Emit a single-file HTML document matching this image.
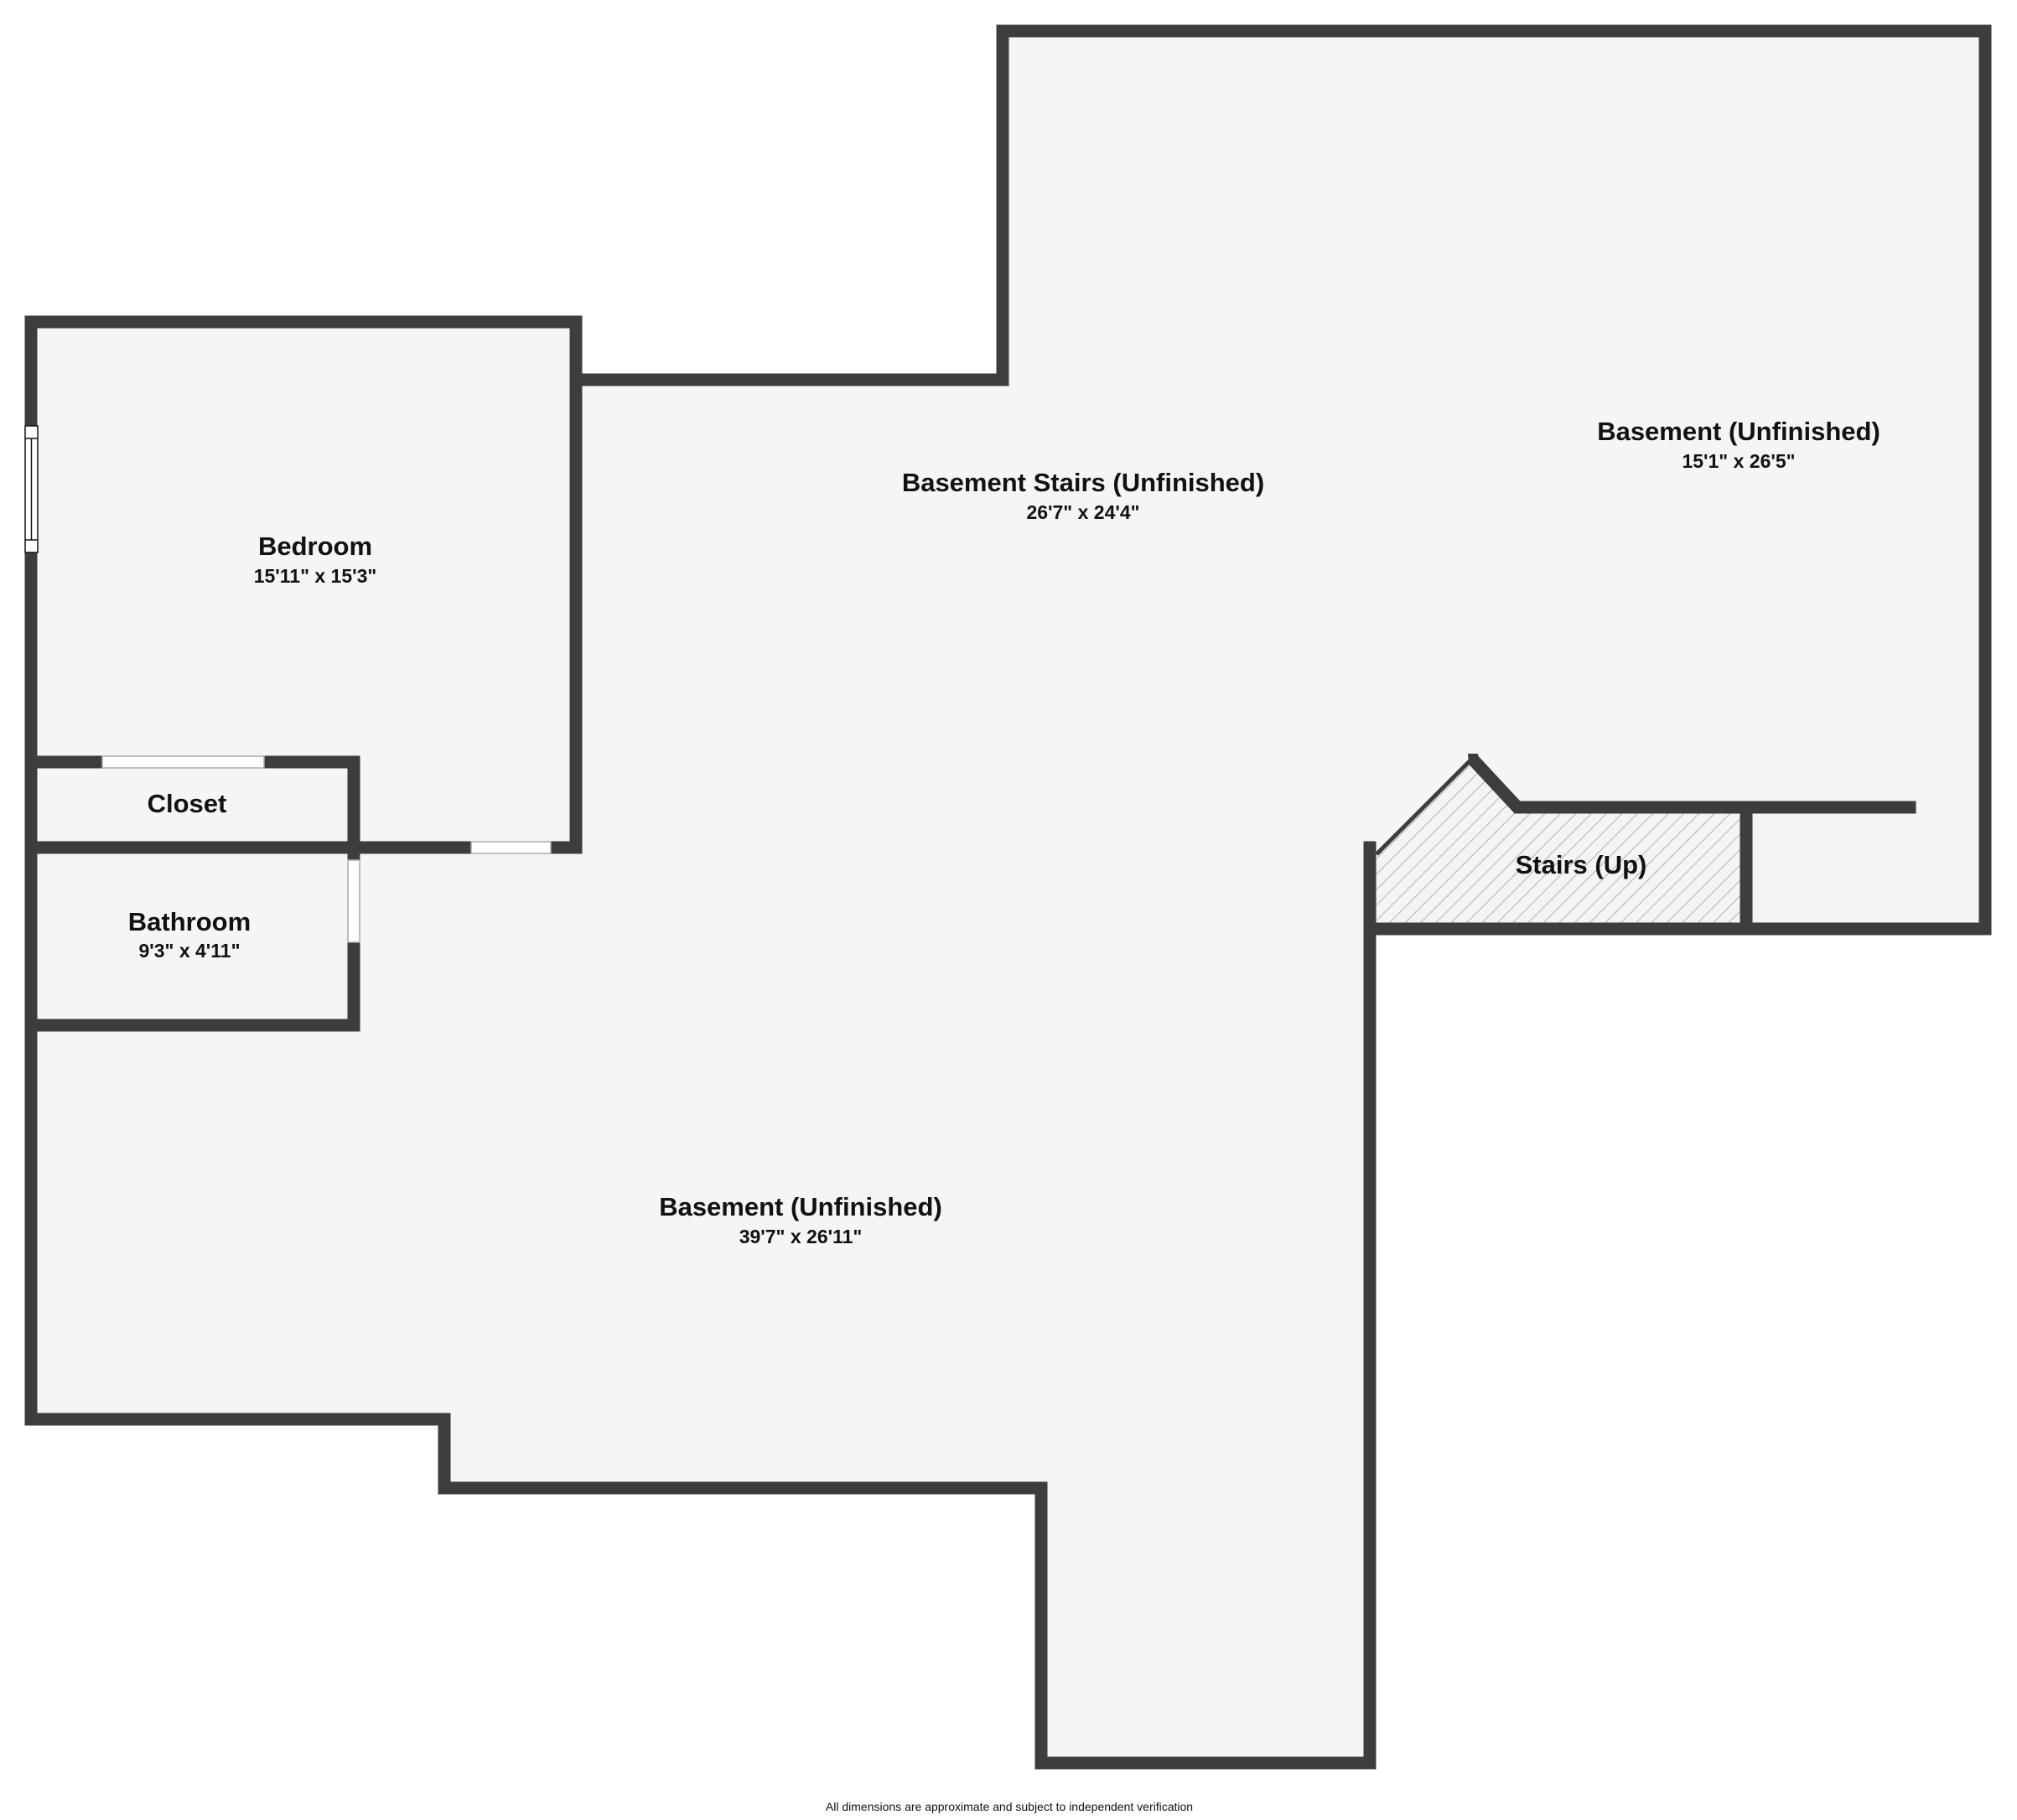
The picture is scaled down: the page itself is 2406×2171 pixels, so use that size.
<!DOCTYPE html>
<html><head><meta charset="utf-8"><style>
html,body{margin:0;padding:0;background:#fff;}
svg{display:block;}
text{font-family:"Liberation Sans",sans-serif;font-weight:bold;fill:#111;text-anchor:middle;}
</style></head><body>
<svg width="2406" height="2171" viewBox="0 0 2406 2171" xmlns="http://www.w3.org/2000/svg">
<defs>
<pattern id="h" patternUnits="userSpaceOnUse" width="13" height="13" patternTransform="rotate(45)">
<rect width="13" height="13" fill="#f4f4f4"/>
<line x1="0" y1="0" x2="0" y2="13" stroke="#9a9a9a" stroke-width="1.5"/>
</pattern>
</defs>
<path d="M37,384 L687,384 L687,453 L1196,453 L1196,37 L2368,37 L2368,1108 L1634,1108 L1634,2103 L1242,2103 L1242,1775 L530,1775 L530,1693 L37,1693 Z" fill="#f5f5f5"/>
<path d="M1642,1019 L1757,906 L1810,963 L2083,963 L2083,1108 L1642,1108 Z" fill="url(#h)"/>
<g stroke="#3d3d3d" stroke-width="15" fill="none" stroke-linecap="square" stroke-linejoin="miter">
<path d="M37,1223 L37,1693 L530,1693 L530,1775 L1242,1775 L1242,2103 L1634,2103 L1634,1011"/>
<path d="M37,1223 L37,384 L687,384 L687,1011 L422,1011"/>
<path d="M687,453 L1196,453 L1196,37 L2368,37 L2368,1108 L1634,1108"/>
<path d="M2083,1108 L2083,963 L2278,963"/>
<path d="M1757,906 L1810,963 L2083,963" stroke-linecap="butt"/>
<path d="M37,909 L422,909 L422,1223 L37,1223"/>
<path d="M37,1011 L422,1011"/>
</g>
<line x1="1642" y1="1019" x2="1757" y2="904" stroke="#3d3d3d" stroke-width="5"/>
<path d="M1751,899 L1763,899 L1764,912 L1752,912Z" fill="#3d3d3d"/>
<rect x="122" y="902" width="193" height="14" fill="#fff" stroke="#aaa" stroke-width="1.5"/>
<rect x="562" y="1004" width="95" height="14" fill="#fff" stroke="#aaa" stroke-width="1.5"/>
<rect x="415" y="1026" width="14" height="98" fill="#fff" stroke="#aaa" stroke-width="1.5"/>
<rect x="30" y="508" width="15" height="151" fill="#fff" stroke="#111" stroke-width="1.5"/>
<line x1="30" y1="523" x2="45" y2="523" stroke="#111" stroke-width="1.5"/>
<line x1="30" y1="644" x2="45" y2="644" stroke="#111" stroke-width="1.5"/>
<line x1="37.5" y1="523" x2="37.5" y2="644" stroke="#111" stroke-width="1.5"/>
<text x="376" y="662" font-size="31">Bedroom</text>
<text x="376" y="695" font-size="23">15'11" x 15'3"</text>
<text x="223" y="969" font-size="31">Closet</text>
<text x="226" y="1110" font-size="31">Bathroom</text>
<text x="226" y="1142" font-size="23">9'3" x 4'11"</text>
<text x="1292" y="586" font-size="31">Basement Stairs (Unfinished)</text>
<text x="1292" y="619" font-size="23">26'7" x 24'4"</text>
<text x="2074" y="525" font-size="31">Basement (Unfinished)</text>
<text x="2074" y="558" font-size="23">15'1" x 26'5"</text>
<text x="1886" y="1042" font-size="31">Stairs (Up)</text>
<text x="955" y="1450" font-size="31">Basement (Unfinished)</text>
<text x="955" y="1483" font-size="23">39'7" x 26'11"</text>
<text x="1204" y="2160" font-size="14" style="font-weight:normal">All dimensions are approximate and subject to independent verification</text>
</svg>
</body></html>
